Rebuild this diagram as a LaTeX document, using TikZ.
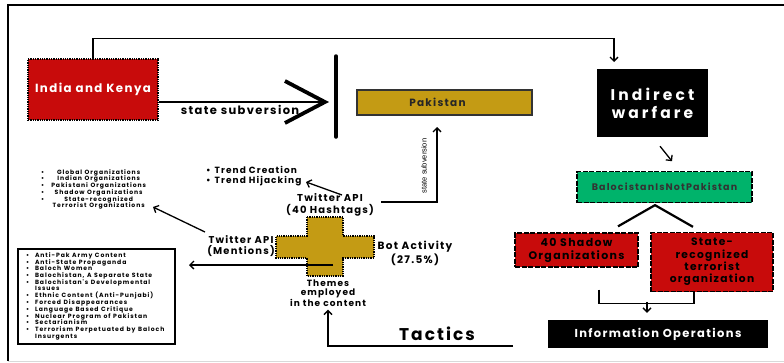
\documentclass[tikz,border=0pt]{standalone}
\usepackage{fontspec}
\setmainfont{Poppins}[LetterSpace=12]
\newfontfamily\listfont{Poppins}[LetterSpace=15]
\newfontfamily\narrowfont{Liberation Sans}
\usetikzlibrary{arrows.meta,calc}
\definecolor{kred}{HTML}{C80B0B}
\definecolor{kgold}{HTML}{C49B14}
\definecolor{kgreen}{HTML}{00B36B}
\newcommand\widespaces{\spaceskip=2.6pt plus 0.5pt\relax}
\tikzset{
  arr/.style={line width=1.3pt,-{Straight Barb[length=4pt,width=8pt]}},
  redbox/.style={fill=kred,draw=black,dash pattern=on 5pt off 1.5pt,line width=1.3pt,align=center,
    font=\bfseries\fontsize{10.5}{12.5}\selectfont},
  blackbox/.style={fill=black,text=white,align=center},
  lbl/.style={align=center,font=\bfseries\fontsize{10}{11.5}\selectfont},
  smalllist/.style={font=\listfont\bfseries\fontsize{#1}{6.3}\selectfont}
}
\begin{document}
\begin{tikzpicture}[x=1pt,y=-1pt]
\useasboundingbox (0,0) rectangle (784,362);
% frame
\draw[line width=1.5pt] (784,5) -- (8,5) -- (8,361);
\draw[black!15,line width=1pt] (8,361) -- (784,361);

% boxes
\node[fill=kred,draw=black,densely dotted,line width=1.3pt,minimum width=130pt,minimum height=61pt,
  text=white,font=\bfseries\fontsize{11.8}{13}\selectfont] (india) at (93,89.5) {India and Kenya};
\node[fill=kgold,draw=black!80,line width=1.2pt,minimum width=175pt,minimum height=25pt,
  text=black!85,font=\bfseries\fontsize{10.5}{11}\selectfont] (pakistan) at (444.5,102.5) {Pakistan\hspace*{14pt}};
\node[blackbox,minimum width=111pt,minimum height=68pt,
  font=\bfseries\fontsize{15.5}{18}\selectfont\addfontfeature{LetterSpace=20}] (warfare) at (652.5,103) {Indirect\\warfare};
\node[fill=kgreen,draw=black,dash pattern=on 5pt off 1.5pt,line width=1.3pt,minimum width=175pt,minimum height=31pt,
  text=black!80,font=\bfseries\fontsize{9.5}{10}\selectfont] (notpak) at (664.5,187) {BalocistanIsNotPakistan};
\node[redbox,minimum width=123pt,minimum height=34pt,font=\bfseries\fontsize{11}{13}\selectfont] (shadow) at (576.5,250) {40 Shadow\\Organizations};
\node[redbox,minimum width=122pt,minimum height=59pt,font=\bfseries\fontsize{10.7}{12.3}\selectfont] (state) at (712,262) {State-\\recognized\\terrorist\\organization};
\node[blackbox,minimum width=220pt,minimum height=28pt,font=\bfseries\fontsize{11.5}{12}\selectfont] (infoops) at (658,334) {Information Operations};
\node[font=\bfseries\fontsize{17}{20}\selectfont] (tactics) at (437,334) {Tactics};

% cross
\draw[fill=kgold,densely dotted,line width=1.3pt] (307,217) -- (343,217) -- (343,236) -- (374,236) -- (374,258)
  -- (343,258) -- (343,276) -- (307,276) -- (307,258) -- (276,258) -- (276,236) -- (307,236) -- cycle;

% labels
\node[lbl] (hashtags) at (330,205) {Twitter API\\(40 Hashtags)};
\node[lbl,font=\bfseries\fontsize{9.9}{11}\selectfont] (mentions) at (241,246.5) {Twitter API\\(Mentions)};
\node[lbl,font=\bfseries\fontsize{10.5}{11}\selectfont] (bot) at (415,253.5) {Bot Activity\\(27.5\%)};
\node[align=center,font=\bfseries\fontsize{9}{8.8}\selectfont] (themes) at (328,293) {Themes\\employed\\in the content};
\node[font=\bfseries\fontsize{11.5}{12}\selectfont] (subv) at (240,110) {state subversion};
\node[rotate=90,font=\narrowfont\fontsize{7.5}{9}\selectfont] (subv2) at (424,166) {state subversion};

% lists
\node[anchor=west,inner sep=0pt,font=\bfseries\fontsize{9}{9}\selectfont] (trend) at (206,176.5) {%
  \begin{tabular}{@{}l@{\hspace{4pt}}l@{}}
  \textbullet & Trend Creation\\
  \textbullet & Trend Hijacking
  \end{tabular}};
\node[anchor=west,inner sep=0pt,smalllist=6.1] (orgs) at (41,189.5) {\widespaces
  \begin{tabular}{@{}c@{\hspace{7pt}}c@{}}
  \textbullet & Global Organizations\\
  \textbullet & Indian Organizations\\
  \textbullet & Pakistani Organizations\\
  \textbullet & Shadow Organizations\\
  \textbullet & State-recognized\\
   & Terrorist Organizations
  \end{tabular}};
\node[draw,line width=2pt,anchor=north west,minimum height=93pt,text width=141pt,inner xsep=8pt,inner ysep=4pt,
  align=left,smalllist=6.1] (themelist) at (17,247.5) {\widespaces
  \begin{tabular}{@{}l@{\hspace{6pt}}l@{}}
  \textbullet & Anti-Pak Army Content\\
  \textbullet & Anti-State Propaganda\\
  \textbullet & Baloch Women\\
  \textbullet & Balochistan, A Separate State\\
  \textbullet & Balochistan's Developmental\\
   & Issues\\
  \textbullet & Ethnic Content (Anti-Punjabi)\\
  \textbullet & Forced Disappearances\\
  \textbullet & Language Based Critique\\
  \textbullet & Nuclear Program of Pakistan\\
  \textbullet & Sectarianism\\
  \textbullet & Terrorism Perpetuated by Baloch\\
   & Insurgents
  \end{tabular}};

% connector ends
\coordinate (tip) at (329,102);
\coordinate (topin) at (614,62);
\coordinate (mfrom) at (205,232);
\coordinate (mto) at (153,207);
\coordinate (hfrom) at (342,195);
\coordinate (hto) at (306,182);
\coordinate (cfrom) at (333,265);
\coordinate (cto) at (189,265);
\coordinate (hright) at (381,202);
\coordinate (pakin) at (437,127);
\coordinate (tstart) at (513,346);

% connectors
\draw[arr] (india.north) -- ++(0,-20) -| (topin);
\draw[line width=1.8pt,-{Straight Barb[length=40pt,width=42pt,line width=3.8pt]}] (india.east |- tip) -- (tip);
\draw[line width=3.5pt,line cap=round] (336,56) -- (336,137);
\draw[arr] ($(warfare.south)+(7.5,9)$) -- ++(12,15);
\draw[line width=2.2pt] ($(shadow.north)+(41.5,-6)$) -- ($(notpak.south)+(-9.5,2)$) -- ($(state.north)+(-19,-5)$);
\draw[line width=1.3pt] ($(shadow.south)+(22.5,22)$) |- ($(state.south)+(-18,11)$) -- ($(state.south)+(-18,0)$);
\draw[arr] ($(infoops.north)+(-11,-18)$) -- ($(infoops.north)+(-11,-7)$);
\draw[arr] (hright) -| (pakin);
\draw[arr] (hfrom) -- (hto);
\draw[arr] (mfrom) -- (mto);
\draw[arr] (cfrom) -- (cto);
\draw[arr,line width=1.5pt] (tstart) -| (themes.south);
\end{tikzpicture}
\end{document}
